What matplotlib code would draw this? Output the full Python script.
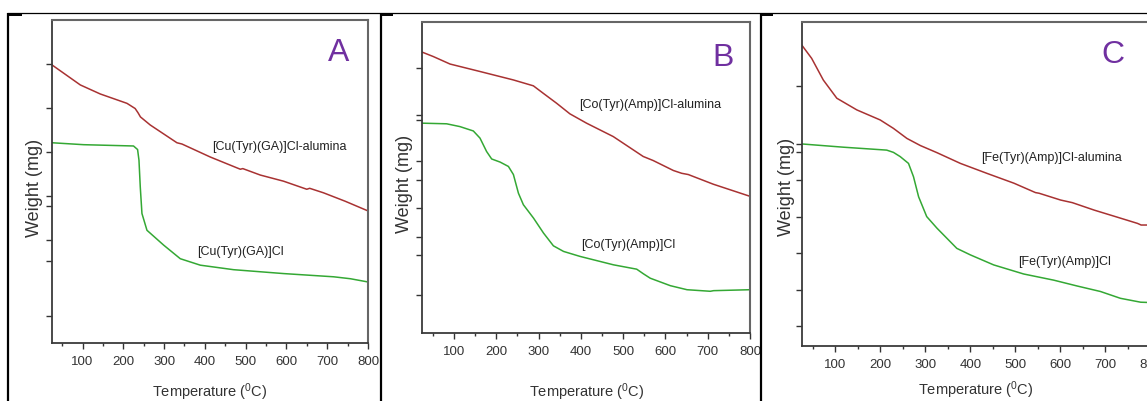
"""
Three TGA panels (A, B, C): weight vs temperature for the free complexes
and the alumina-supported ones, laid out like a 3-cell table.
"""
import matplotlib
matplotlib.use("Agg")
import matplotlib.pyplot as plt
from matplotlib.lines import Line2D
import numpy as np

# ── Colours / fonts ───────────────────────────────────────────────────────────
RED = "#a83232"
GREEN = "#34a834"
PURPLE = "#7030a0"
TXT = "#333333"
SANS = "Liberation Sans"
plt.rcParams["font.family"] = SANS
plt.rcParams["mathtext.default"] = "regular"

# ── Data (weight in arbitrary units, 0 = bottom of axes, 100 = top) ───────────
# Panel A: Cu
a_red_t = [25, 94.5, 143.5, 209, 229, 236, 242, 266, 331.5, 344, 413, 487, 493,
           536, 593, 650, 657, 691, 744, 800]
a_red_w = [86.1, 79.9, 77.1, 74.2, 72.6, 71.3, 70.0, 67.5, 62.0, 61.6, 57.6,
           53.8, 54.0, 52.0, 50.1, 47.6, 47.9, 46.5, 43.9, 40.9]
a_grn_t = [25, 102.7, 225, 235, 238.4, 241.6, 245.7, 258, 299, 339.7, 388.8,
           470.5, 593, 716, 757, 800]
a_grn_w = [62.0, 61.4, 61.0, 59.9, 56.6, 48.3, 40.1, 34.9, 30.3, 26.1, 24.1,
           22.7, 21.5, 20.5, 19.9, 18.9]
a_yticks = [86.4, 72.8, 59.2, 45.6, 42.5, 32.0, 25.4, 8.3]

# Panel B: Co
b_red_t = [25, 51, 90.5, 161.4, 240, 287.6, 311, 342.6, 374, 413.4, 476.5,
           547.4, 571, 618.7, 638.4, 654, 713, 800]
b_red_w = [90.2, 88.8, 86.4, 84.0, 81.3, 79.4, 77.0, 73.8, 70.4, 67.4, 63.1,
           56.7, 55.4, 52.2, 51.3, 50.9, 47.8, 43.9]
b_grn_t = [25, 82.5, 114, 145.6, 161.4, 177, 189, 209, 228.6, 240.4, 252.3,
           264, 288, 311.6, 335, 359, 398, 477, 532, 548, 564, 611.5, 651,
           706, 714, 800]
b_grn_w = [67.4, 67.2, 66.3, 64.9, 62.6, 58.3, 55.9, 54.9, 53.5, 50.9, 44.9,
           41.2, 36.9, 32.1, 28.0, 26.2, 24.6, 21.9, 20.5, 19.0, 17.6, 15.2,
           13.9, 13.4, 13.6, 13.9]
b_yticks = [85.0, 70.1, 68.4, 55.1, 49.2, 40.1, 30.7, 25.1, 12.1]

# Panel C: Fe
c_red_t = [25, 47, 73, 103, 147.5, 199.5, 229, 259, 289, 326, 378, 437.6, 497,
           545, 553, 601, 627, 675.6, 727.5, 772, 780, 800]
c_red_w = [92.8, 88.7, 82.0, 76.4, 72.8, 69.7, 67.1, 64.0, 61.8, 59.6, 56.3,
           53.2, 50.2, 47.3, 47.1, 45.0, 44.2, 41.9, 39.7, 37.8, 37.3, 37.3]
c_grn_t = [25, 117.6, 214, 229, 244, 262.5, 273.6, 285, 303, 326, 348, 370,
           400, 452, 518.7, 585.6, 637.6, 689.6, 734, 779, 800]
c_grn_w = [62.3, 61.3, 60.4, 59.7, 58.4, 56.3, 52.2, 46.0, 39.9, 36.3, 33.2,
           30.1, 28.1, 25.0, 22.2, 20.3, 18.5, 16.8, 14.7, 13.5, 13.4]
c_yticks = [80.2, 62.3, 59.9, 51.2, 39.9, 28.6, 17.3, 6.2]

xticks = [100, 200, 300, 400, 500, 600, 700, 800]

panels = [
    dict(letter="A", rect=[0.0453, 0.1446, 0.2755, 0.8055],
         red=(a_red_t, a_red_w), grn=(a_grn_t, a_grn_w), yticks=a_yticks,
         red_lbl=("[Cu(Tyr)(GA)]Cl-alumina", 583, 60.7),
         grn_lbl=("[Cu(Tyr)(GA)]Cl", 487, 28.2),
         let_pos=(728, 89.7), ylab=(-0.054, 0.48), xlab=(0.50, -0.152)),
    dict(letter="B", rect=[0.3682, 0.1696, 0.2857, 0.7763],
         red=(b_red_t, b_red_w), grn=(b_grn_t, b_grn_w), yticks=b_yticks,
         red_lbl=("[Co(Tyr)(Amp)]Cl-alumina", 563, 73.3),
         grn_lbl=("[Co(Tyr)(Amp)]Cl", 512, 28.3),
         let_pos=(737, 88.2), ylab=(-0.053, 0.48), xlab=(0.503, -0.19)),
    dict(letter="C", rect=[0.6990, 0.1372, 0.3037, 0.8087],
         red=(c_red_t, c_red_w), grn=(c_grn_t, c_grn_w), yticks=c_yticks,
         red_lbl=("[Fe(Tyr)(Amp)]Cl-alumina", 580, 57.9),
         grn_lbl=("[Fe(Tyr)(Amp)]Cl", 609, 26.0),
         let_pos=(717, 89.7), ylab=(-0.045, 0.49), xlab=(0.50, -0.136)),
]

fig = plt.figure(figsize=(11.47, 4.01), dpi=100)

for p in panels:
    ax = fig.add_axes(p["rect"])
    ax.plot(*p["red"], color=RED, lw=1.1)
    ax.plot(*p["grn"], color=GREEN, lw=1.1)
    ax.set_xlim(25, 800)
    ax.set_ylim(0, 100)

    ax.set_xticks(xticks)
    ax.set_xticks(np.arange(50, 800, 100), minor=True)
    ax.set_xticklabels([str(t) for t in xticks], fontsize=9.5, color=TXT)
    ax.set_yticks(p["yticks"])
    ax.set_yticklabels([])
    ax.tick_params(axis="x", which="major", direction="out", length=4.5,
                   width=1, color=TXT, pad=5)
    ax.tick_params(axis="x", which="minor", direction="out", length=2.5,
                   width=1, color=TXT)
    ax.tick_params(axis="y", direction="out", length=4, width=1, color=TXT)

    for side in ("left", "bottom"):
        ax.spines[side].set_color("#3a3a3a")
        ax.spines[side].set_linewidth(1.3)
    for side in ("top", "right"):
        ax.spines[side].set_color("#666666")
        ax.spines[side].set_linewidth(1.5)

    txt, x, y = p["red_lbl"]
    ax.text(x, y, txt, ha="center", va="center", fontsize=9, color="#222222")
    txt, x, y = p["grn_lbl"]
    ax.text(x, y, txt, ha="center", va="center", fontsize=9, color="#222222")
    ax.text(*p["let_pos"], p["letter"], ha="center", va="center",
            fontsize=23, color=PURPLE)

    ax.text(*p["ylab"], "Weight (mg)", rotation=90, ha="center", va="center",
            transform=ax.transAxes, fontsize=13, color=TXT)
    ax.text(*p["xlab"], "Temperature ($^0$C)", ha="center", va="center",
            transform=ax.transAxes, fontsize=10.5, color=TXT)

# ── Table borders around the three images ─────────────────────────────────────
W, H = 1147, 401


def px_line(xs, ys, lw):
    fig.add_artist(Line2D([x / W for x in xs], [1 - y / H for y in ys],
                          transform=fig.transFigure, color="black", lw=lw,
                          solid_capstyle="butt"))


px_line([7, 1147], [13.3, 13.3], 0.9)
for vx, ledge in [(7.7, 22), (380.7, 392.7), (761, 773.3)]:
    px_line([vx, vx], [13, 401], 1.6)
    px_line([vx, ledge], [15, 15], 1.4)

fig.savefig("out.png", dpi=100)
